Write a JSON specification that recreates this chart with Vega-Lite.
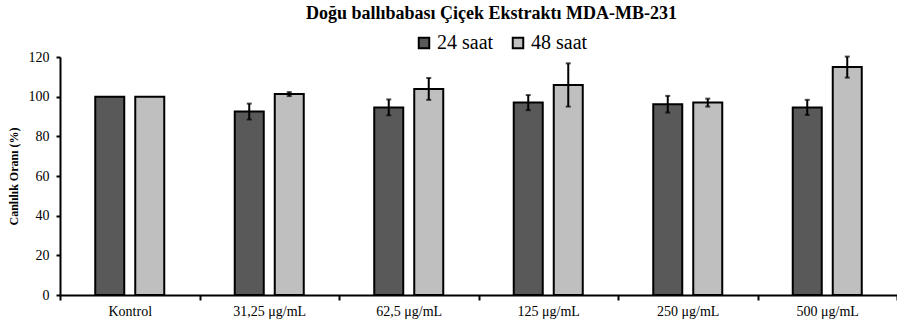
{
  "$schema": "https://vega.github.io/schema/vega-lite/v6.json",
  "width": 837,
  "height": 238,
  "autosize": {"type": "none"},
  "padding": {"left": 60, "top": 57, "right": 0, "bottom": 27},
  "background": "white",
  "config": {
    "view": {"stroke": null},
    "font": "Times New Roman, Liberation Serif, serif",
    "legend": {"labelFont": "Times New Roman, Liberation Serif, serif", "labelFontSize": 20, "labelColor": "black"},
    "axis": {"labelFont": "Times New Roman, Liberation Serif, serif", "titleFont": "Times New Roman, Liberation Serif, serif"},
    "axisY": {
      "title": "Canlılık Oranı (%)",
      "titleFontSize": 12,
      "titleFontWeight": "bold",
      "titleColor": "black",
      "titlePadding": 8,
      "tickCount": 6,
      "labelOverlap": false,
      "labelFontSize": 14,
      "labelColor": "black",
      "labelPadding": 7,
      "domainColor": "black",
      "domainWidth": 2,
      "tickColor": "black",
      "tickWidth": 2,
      "tickSize": 4,
      "grid": false
    }
  },
  "title": {
    "text": "Doğu ballıbabası Çiçek Ekstraktı MDA-MB-231",
    "fontSize": 18,
    "fontWeight": "bold",
    "font": "Times New Roman, Liberation Serif, serif",
    "color": "black",
    "anchor": "middle",
    "dx": 13,
    "offset": 10
  },
  "data": {
    "values": [
      {"group": "Kontrol", "time": "24 saat", "value": 100, "lo": null, "hi": null},
      {"group": "Kontrol", "time": "48 saat", "value": 100, "lo": null, "hi": null},
      {"group": "31,25 μg/mL", "time": "24 saat", "value": 92.5, "lo": 88.5, "hi": 96.5},
      {"group": "31,25 μg/mL", "time": "48 saat", "value": 101.3, "lo": 100.3, "hi": 102.3},
      {"group": "62,5 μg/mL", "time": "24 saat", "value": 94.6, "lo": 90.6, "hi": 98.6},
      {"group": "62,5 μg/mL", "time": "48 saat", "value": 103.9, "lo": 98.4, "hi": 109.4},
      {"group": "125 μg/mL", "time": "24 saat", "value": 97.0, "lo": 93.2, "hi": 100.8},
      {"group": "125 μg/mL", "time": "48 saat", "value": 105.9, "lo": 95.0, "hi": 116.8},
      {"group": "250 μg/mL", "time": "24 saat", "value": 96.2, "lo": 92.0, "hi": 100.4},
      {"group": "250 μg/mL", "time": "48 saat", "value": 97.0, "lo": 95.0, "hi": 99.0},
      {"group": "500 μg/mL", "time": "24 saat", "value": 94.6, "lo": 90.8, "hi": 98.4},
      {"group": "500 μg/mL", "time": "48 saat", "value": 115.0, "lo": 109.6, "hi": 120.2}
    ]
  },
  "encoding": {
    "x": {
      "field": "group",
      "type": "nominal",
      "sort": null,
      "scale": {"paddingInner": 0, "paddingOuter": 0},
      "axis": {
        "title": null,
        "labelAngle": 0,
        "labelFontSize": 14,
        "labelColor": "black",
        "labelPadding": 4,
        "domainColor": "black",
        "domainWidth": 2,
        "tickColor": "black",
        "tickWidth": 2,
        "tickSize": 5,
        "tickBand": "extent",
        "grid": false
      }
    },
    "xOffset": {
      "field": "time",
      "type": "nominal",
      "scale": {"paddingInner": 0.275, "paddingOuter": 0.881}
    }
  },
  "layer": [
    {
      "mark": {"type": "bar", "stroke": "black", "strokeWidth": 2},
      "encoding": {
        "y": {
          "field": "value",
          "type": "quantitative",
          "scale": {"domain": [0, 120], "nice": false},
          "title": "Canlılık Oranı (%)"
        },
        "fill": {
          "field": "time",
          "type": "nominal",
          "scale": {"domain": ["24 saat", "48 saat"], "range": ["#595959", "#bfbfbf"]},
          "legend": {
            "orient": "none",
            "legendX": 354,
            "legendY": -24,
            "direction": "horizontal",
            "title": null,
            "symbolType": "square",
            "symbolSize": 110,
            "symbolStrokeColor": "black",
            "symbolStrokeWidth": 2,
            "labelFont": "Times New Roman, Liberation Serif, serif",
            "labelFontSize": 20,
            "labelColor": "black",
            "labelOffset": 3,
            "columnPadding": 14
          }
        }
      }
    },
    {
      "transform": [{"filter": "isValid(datum.lo)"}],
      "mark": {"type": "rule", "strokeWidth": 2, "color": "black"},
      "encoding": {
        "y": {"field": "lo", "type": "quantitative", "title": "Canlılık Oranı (%)"},
        "y2": {"field": "hi"}
      }
    },
    {
      "transform": [{"filter": "isValid(datum.lo)"}],
      "mark": {"type": "tick", "thickness": 2, "size": 5, "color": "black"},
      "encoding": {"y": {"field": "lo", "type": "quantitative", "title": "Canlılık Oranı (%)"}}
    },
    {
      "transform": [{"filter": "isValid(datum.hi)"}],
      "mark": {"type": "tick", "thickness": 2, "size": 5, "color": "black"},
      "encoding": {"y": {"field": "hi", "type": "quantitative", "title": "Canlılık Oranı (%)"}}
    }
  ]
}
